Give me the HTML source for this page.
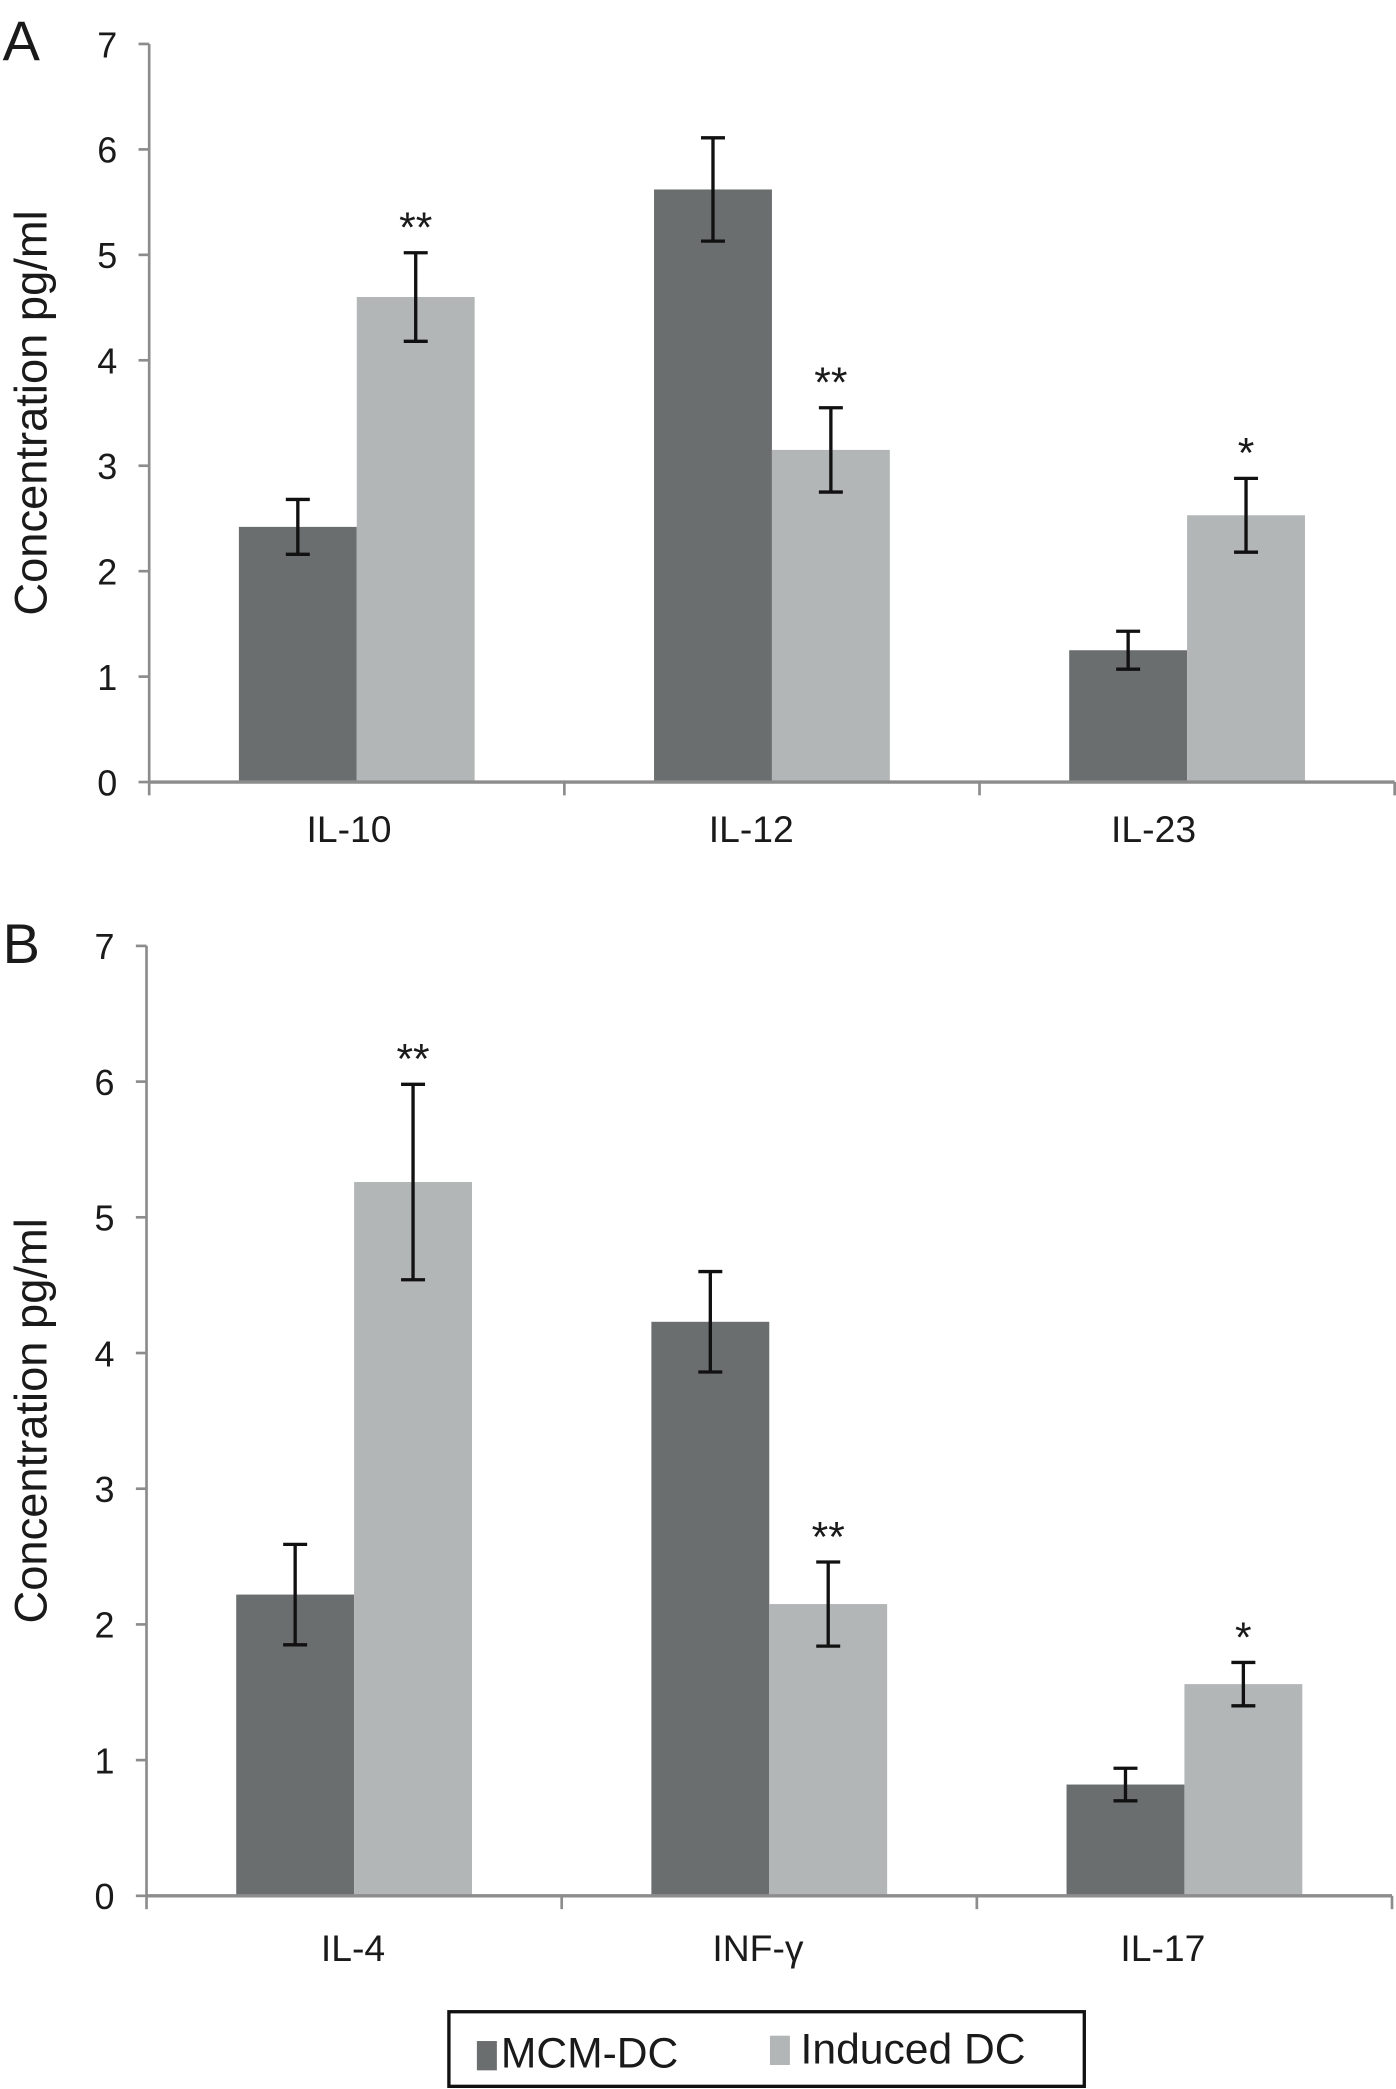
<!DOCTYPE html>
<html><head><meta charset="utf-8"><style>
html,body{margin:0;padding:0;background:#fff;}
svg{display:block;}
text{font-family:"Liberation Sans",sans-serif;fill:#1a1a1a;}
</style></head><body>
<svg id="fig" width="1396" height="2089" viewBox="0 0 1048 1568" preserveAspectRatio="none" xmlns="http://www.w3.org/2000/svg"></svg>
<script>
const catsA = ["IL-10","IL-12","IL-23"];
const mcmA = [2.42,5.62,1.25];
const mcmErrA = [0.26,0.49,0.18];
const indA = [4.6,3.15,2.53];
const indErrA = [0.42,0.4,0.35];
const starsA = ["**","**","*"];
const catsB = ["IL-4","INF-γ","IL-17"];
const mcmB = [2.22,4.23,0.82];
const mcmErrB = [0.37,0.37,0.12];
const indB = [5.26,2.15,1.56];
const indErrB = [0.72,0.31,0.16];
const starsB = ["**","**","*"];
const yTicks = [0,1,2,3,4,5,6,7];

const svg = document.getElementById('fig');
const NS = "http://www.w3.org/2000/svg";
function mk(tag, attrs, parent){const e=document.createElementNS(NS,tag);for(const k in attrs)e.setAttribute(k,attrs[k]);(parent||svg).appendChild(e);return e;}

function panel(letter, cfg){
  const g = mk('g',{});
  
  
  const {x0,x1,y0,y7,letterY,cats,mcm,mcmErr,ind,indErr,stars,labelY,lab0,labStep} = cfg;
  const ys = v => y0 - (y0-y7)*v/7;
  const cw = (x1-x0)/cats.length;
  const bw = 88.5;
  const L = mk('text',{x:2,y:letterY,'font-size':42},g); L.textContent=letter;
   
  const ya = mk('line',{x1:x0,y1:y7,x2:x0,y2:y0,stroke:'#8c8c8c','stroke-width':2},g);
   
  yTicks.forEach(t=>{
    mk('line',{x1:x0-8,y1:ys(t),x2:x0,y2:ys(t),stroke:'#8c8c8c','stroke-width':2},g);
    const tx = mk('text',{x:x0-24,y:ys(t)+10,'font-size':27,'text-anchor':'end'},g); tx.textContent=t;
     
  });
  const yt = mk('text',{x:0,y:0,'font-size':34,'text-anchor':'middle',transform:`translate(35,${(y0+y7)/2}) rotate(-90)`},g);
  yt.textContent='Concentration pg/ml';
   
  cats.forEach((c,i)=>{
    const cx = x0 + cw*i;
    const b1x = cx + cw/2 - bw, b2x = cx + cw/2;
    const r1 = mk('rect',{x:b1x,y:ys(mcm[i]),width:bw,height:y0-ys(mcm[i]),fill:'#6a6e6e'},g);
     
    const r2 = mk('rect',{x:b2x,y:ys(ind[i]),width:bw,height:y0-ys(ind[i]),fill:'#b3b6b6'},g);
     
    [[b1x+bw/2,mcm[i],mcmErr[i]],[b2x+bw/2,ind[i],indErr[i]]].forEach(([ex,v,e])=>{
      const eg = mk('g',{stroke:'#111','stroke-width':2.5},g);
       
      mk('line',{x1:ex,y1:ys(v+e),x2:ex,y2:ys(v-e)},eg);
      mk('line',{x1:ex-9,y1:ys(v+e),x2:ex+9,y2:ys(v+e)},eg);
      mk('line',{x1:ex-9,y1:ys(v-e),x2:ex+9,y2:ys(v-e)},eg);
    });
    const st = mk('text',{x:b2x+bw/2,y:ys(ind[i]+indErr[i])-8,'font-size':32,'text-anchor':'middle'},g);
    st.textContent=stars[i];
     
    const lb = mk('text',{x:lab0+labStep*i,y:labelY,'font-size':28,'text-anchor':'middle'},g); lb.textContent=c;
     
  });
  for(let i=0;i<=cats.length;i++){
    mk('line',{x1:x0+cw*i,y1:y0,x2:x0+cw*i,y2:y0+10,stroke:'#8c8c8c','stroke-width':2},g);
  }
  const xa = mk('line',{x1:x0,y1:y0,x2:x1,y2:y0,stroke:'#8c8c8c','stroke-width':2.5},g);
   
}
panel('A',{x0:112,x1:1047,y0:587,y7:33,letterY:45,cats:catsA,mcm:mcmA,mcmErr:mcmErrA,ind:indA,indErr:indErrA,stars:starsA,labelY:632,lab0:262,labStep:302});
panel('B',{x0:110,x1:1045,y0:1423,y7:710,letterY:723,cats:catsB,mcm:mcmB,mcmErr:mcmErrB,ind:indB,indErr:indErrB,stars:starsB,labelY:1472,lab0:265,labStep:304});

const lg = mk('g',{});
 
mk('rect',{x:337,y:1510,width:477,height:56,fill:'#fff',stroke:'#111','stroke-width':2.5},lg);
const s1=mk('rect',{x:358,y:1532,width:15,height:22,fill:'#6a6e6e'},lg);
 
const t1=mk('text',{x:376,y:1552,'font-size':32},lg); t1.textContent='MCM-DC';
 
const s2=mk('rect',{x:578,y:1528,width:15,height:22,fill:'#b3b6b6'},lg);
 
const t2=mk('text',{x:601,y:1549,'font-size':32},lg); t2.textContent='Induced DC';
 
</script>
</body></html>
